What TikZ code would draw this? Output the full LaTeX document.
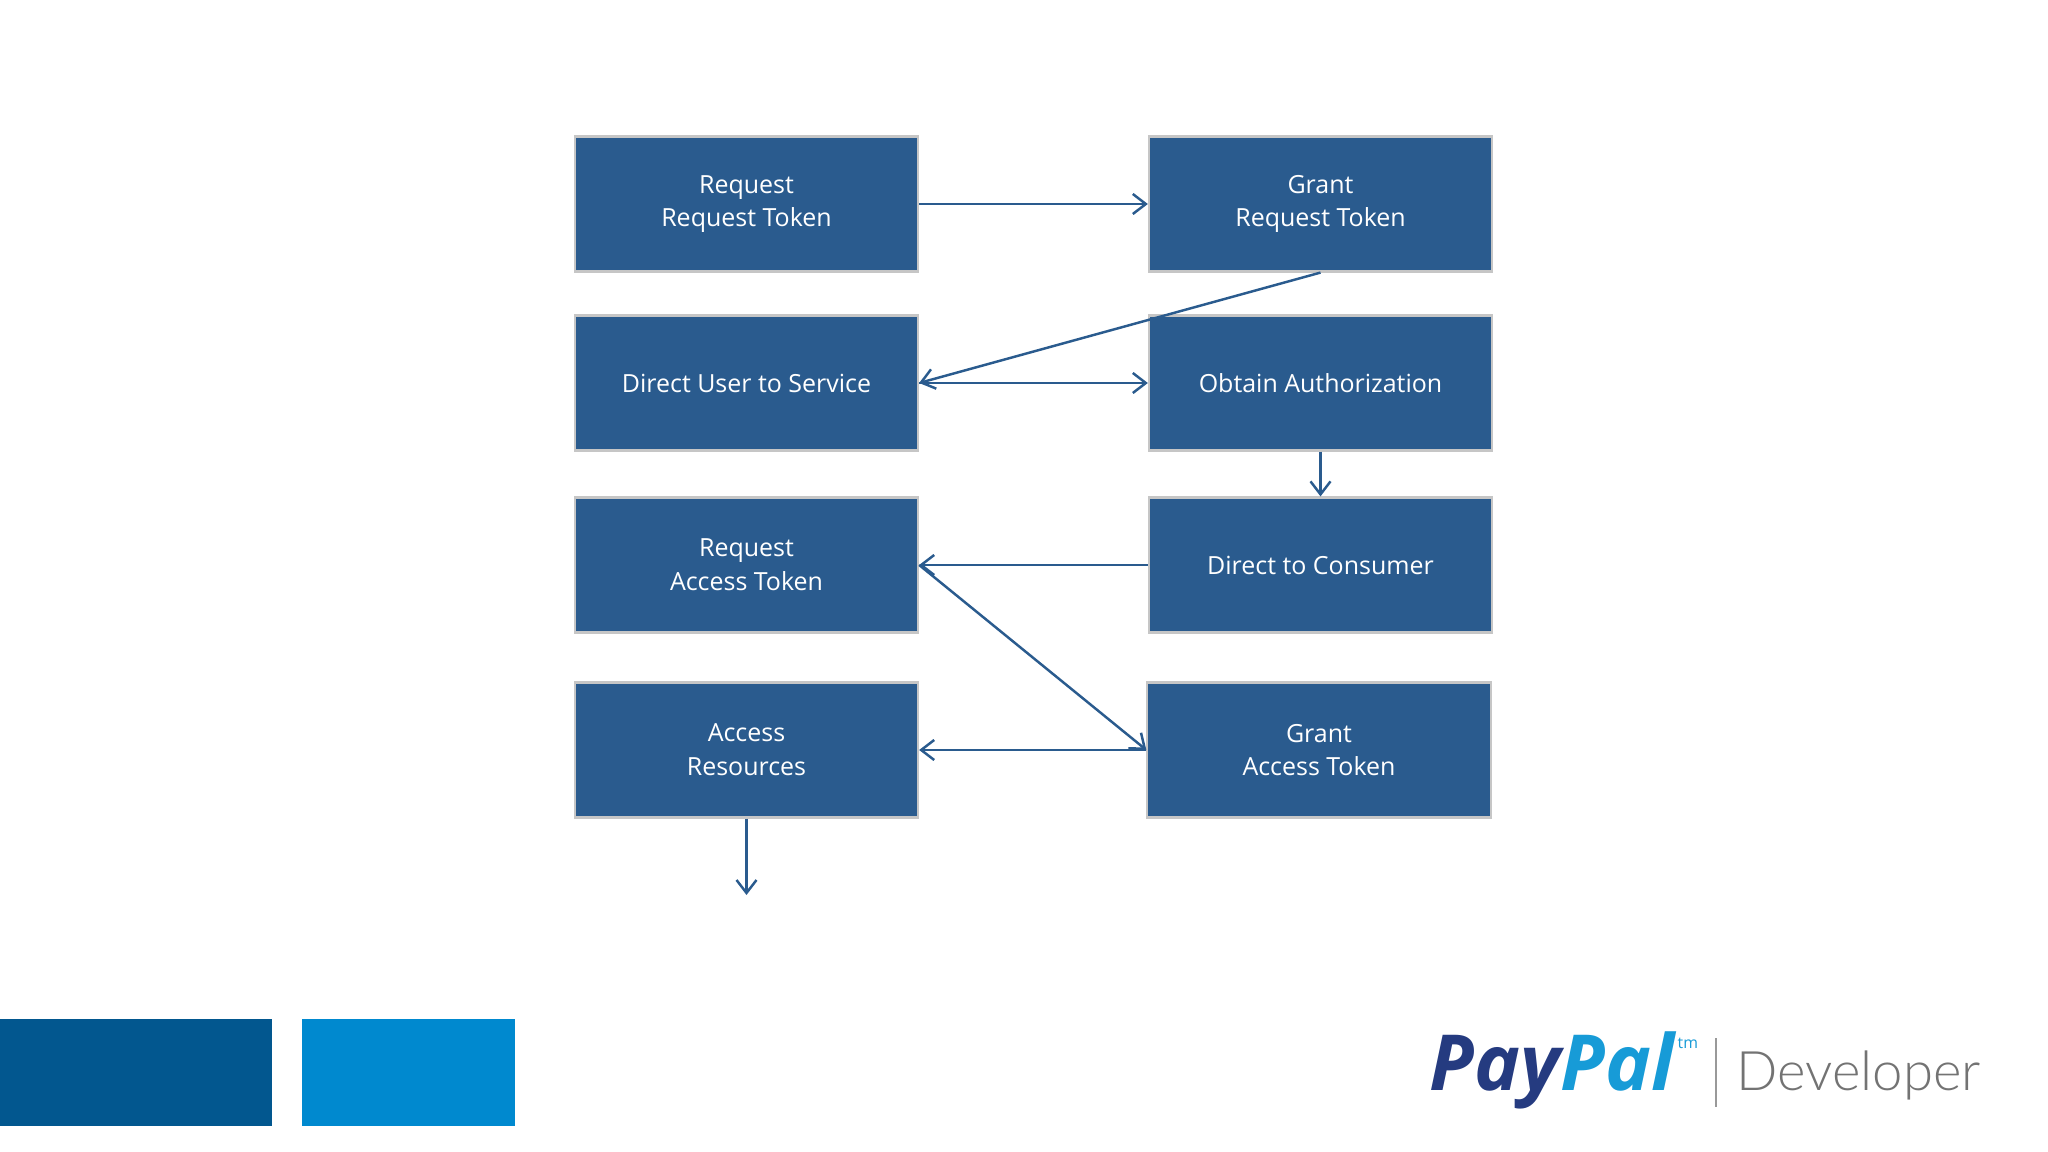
\documentclass[tikz,border=0pt]{standalone}
\usepackage{fontspec}
\setmainfont{Open Sans}
\newfontfamily\devfont{Lato Light}
\usetikzlibrary{arrows.meta}
\definecolor{boxblue}{HTML}{2A5B8E}
\definecolor{darkbar}{HTML}{02578F}
\definecolor{lightbar}{HTML}{0089CF}
\definecolor{ppdark}{HTML}{253B80}
\definecolor{pplight}{HTML}{179BD7}
\tikzset{
  stepbox/.style={draw=gray!45, line width=0.6pt, fill=boxblue, text=white, minimum width=3.43cm, minimum height=1.35cm, align=center, font=\fontsize{7.1}{9.6}\selectfont},
  conn/.style={draw=boxblue, line width=0.7pt, -{Straight Barb[length=1.3mm,width=2mm]}}
}
\begin{document}
\begin{tikzpicture}[x=0.01cm,y=-0.01cm]
\useasboundingbox (0,0) rectangle (2048,1152);
\fill[white] (0,0) rectangle (2048,1152);
\node[stepbox] (rrt) at (746.5,204) {Request\\Request Token};
\node[stepbox] (grt) at (1320.5,204) {Grant\\Request Token};
\node[stepbox] (dus) at (746.5,383) {Direct User to Service};
\node[stepbox] (oa) at (1320.5,383) {Obtain Authorization};
\node[stepbox] (rat) at (746.5,565) {Request\\Access Token};
\node[stepbox] (dtc) at (1320.5,565) {Direct to Consumer};
\node[stepbox] (ar) at (746.5,750) {Access\\Resources};
\node[stepbox] (gat) at (1319,750) {Grant\\Access Token};
\coordinate (end) at (746.5,895);
\draw[conn] (rrt.east) -- (grt.west);
\draw[conn] (grt.south) -- (dus.east);
\draw[conn] (dus.east) -- (oa.west);
\draw[conn] (oa.south) -- (dtc.north);
\draw[conn] (dtc.west) -- (rat.east);
\draw[conn] (rat.east) -- (gat.west);
\draw[conn] (gat.west) -- (ar.east);
\draw[conn] (ar.south) -- (end);
\fill[darkbar] (0,1019) rectangle (272,1126);
\fill[lightbar] (302,1019) rectangle (515,1126);
\node[anchor=base west, inner sep=0, font=\fontsize{22}{22}\selectfont\bfseries\itshape] (pp) at (1429,1090) {\textcolor{ppdark}{Pay}\textcolor{pplight}{Pal}};
\node[anchor=base west, inner sep=0, font=\fontsize{4.5}{5}\selectfont, text=pplight] (tm) at (1677,1048) {tm};
\draw[gray!80, line width=0.8pt] (1716,1038) -- (1716,1107);
\node[anchor=base west, inner sep=0, font=\devfont\fontsize{15.5}{16}\selectfont, text=gray!90!black] (dev) at (1736,1090) {Developer};
\end{tikzpicture}
\end{document}
